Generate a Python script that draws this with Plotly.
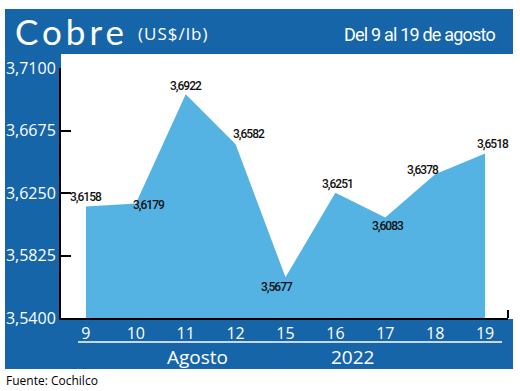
import plotly.graph_objects as go

W, H = 520, 391

days = ["9", "10", "11", "12", "15", "16", "17", "18", "19"]
prices = [3.6158, 3.6179, 3.6922, 3.6582, 3.5677, 3.6251, 3.6083, 3.6378, 3.6518]
price_labels = ["3,6158", "3,6179", "3,6922", "3,6582", "3,5677", "3,6251", "3,6083", "3,6378", "3,6518"]
y_ticks = [3.54, 3.5825, 3.625, 3.6675, 3.71]
y_tick_labels = ["3,5400", "3,5825", "3,6250", "3,6675", "3,7100"]

# label offsets (pixels) relative to each point: (xshift, yshift)
label_offsets = [(0, 10), (13, -2), (0, 8), (13, 10), (-9, -10), (2, 9), (3, -8), (-12, 4), (8, 10)]

DARK = "#1765a9"
LIGHT = "#55b3e3"
NARROW = "Roboto, sans-serif"
SANS = "Open Sans, Lato, sans-serif"

# plot region in figure pixels
PL, PR, PT, PB = 61, 508, 68, 318


def px(x):
    return x / W


def py(y):
    return 1 - y / H


def tight(text, sp):
    return f'<span style="letter-spacing:{sp}px">{text}</span>'


fig = go.Figure()
fig.add_trace(go.Scatter(
    x=days, y=prices, mode="lines", fill="tozeroy",
    line=dict(width=0, color=LIGHT), fillcolor=LIGHT,
    hoverinfo="skip", showlegend=False,
))

shapes = [
    dict(type="rect", xref="paper", yref="paper", x0=px(5), x1=px(513), y0=py(54), y1=py(9),
         fillcolor=DARK, line=dict(width=0), layer="below"),
    dict(type="rect", xref="paper", yref="paper", x0=px(5), x1=px(61), y0=py(369), y1=py(54),
         fillcolor=DARK, line=dict(width=0), layer="below"),
    dict(type="rect", xref="paper", yref="paper", x0=px(5), x1=px(513), y0=py(369), y1=py(319),
         fillcolor=DARK, line=dict(width=0), layer="below"),
    dict(type="line", xref="paper", yref="paper", x0=px(78), x1=px(502), y0=py(342), y1=py(342),
         line=dict(color="white", width=1.5)),
    dict(type="line", xref="paper", yref="paper", x0=px(508), x1=px(508), y0=py(318), y1=py(310),
         line=dict(color="black", width=2)),
]

annotations = [
    dict(x=px(13), y=py(31), xref="paper", yref="paper", xanchor="left", yanchor="middle",
         text=tight("Cobre", 4), showarrow=False,
         font=dict(family="Lato, sans-serif", size=35, color="white")),
    dict(x=px(136), y=py(34), xref="paper", yref="paper", xanchor="left", yanchor="middle",
         text=tight("(US$/lb)", 1), showarrow=False,
         font=dict(family=SANS, size=17, color="white")),
    dict(x=px(497), y=py(35), xref="paper", yref="paper", xanchor="right", yanchor="middle",
         text=tight("Del 9 al 19 de agosto", -0.8), showarrow=False,
         font=dict(family=NARROW, size=18, color="white")),
    dict(x=px(197), y=py(357), xref="paper", yref="paper", xanchor="center", yanchor="middle",
         text="Agosto", showarrow=False, font=dict(family=SANS, size=19, color="white")),
    dict(x=px(352), y=py(357), xref="paper", yref="paper", xanchor="center", yanchor="middle",
         text="2022", showarrow=False, font=dict(family=SANS, size=19, color="white")),
    dict(x=px(4), y=py(380), xref="paper", yref="paper", xanchor="left", yanchor="middle",
         text="Fuente: Cochilco", showarrow=False, font=dict(family=SANS, size=12, color="black")),
]

for i, (v, lab, (dx, dy)) in enumerate(zip(prices, price_labels, label_offsets)):
    annotations.append(dict(
        x=i, y=v, xref="x", yref="y", text=tight(lab, -1), showarrow=False,
        xanchor="center", yanchor="middle", xshift=dx, yshift=dy,
        font=dict(family=NARROW, size=12, color="#111111", weight=500),
    ))

fig.update_layout(
    width=W, height=H,
    margin=dict(l=0, r=0, t=0, b=0),
    paper_bgcolor="white", plot_bgcolor="rgba(0,0,0,0)",
    separators=",.",
    shapes=shapes, annotations=annotations,
    showlegend=False,
)

fig.update_xaxes(
    domain=[px(PL), px(PR)],
    type="category", categoryorder="array", categoryarray=days,
    range=[-0.5, 8.46], showgrid=False, zeroline=False,
    showline=True, linecolor="black", linewidth=2,
    ticks="", tickfont=dict(family=SANS, size=16, color="white"),
    automargin=False, fixedrange=True,
)
fig.update_yaxes(
    domain=[py(PB), py(PT)],
    range=[3.54, 3.71], showgrid=False, zeroline=False,
    showline=True, linecolor="black", linewidth=2,
    ticks="inside", ticklen=10, tickwidth=2, tickcolor="black",
    tickvals=y_ticks, ticktext=y_tick_labels,
    tickfont=dict(family=SANS, size=16, color="white"),
    automargin=False, fixedrange=True,
)

fig.write_html(
    "out.html",
    config={"displayModeBar": False},
    post_script="document.body.style.margin='0';",
)
